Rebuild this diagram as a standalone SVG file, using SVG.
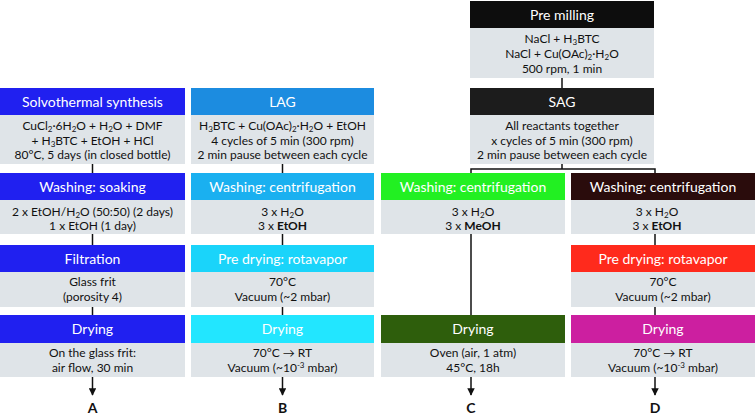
<svg xmlns="http://www.w3.org/2000/svg" width="756" height="416" viewBox="0 0 756 416">
<defs>
<style>
.hd{font-family:Lato,"Liberation Sans",sans-serif;font-size:14px;fill:#fff;text-anchor:middle}
.bd{font-family:Lato,"Liberation Sans",sans-serif;font-size:12px;fill:#111;text-anchor:middle}
.lt{font-family:Lato,"Liberation Sans",sans-serif;font-size:14px;font-weight:bold;fill:#111;text-anchor:middle}
.body{fill:#dfe4e8}
.ln{stroke:#111;stroke-width:1.5;fill:none}
.b{font-weight:bold}
.sub{font-size:8px;baseline-shift:-2px}
.sup{font-size:8px;baseline-shift:4px}
</style>
<marker id="ah" viewBox="0 0 10 10" refX="9" refY="5" markerWidth="5" markerHeight="5" orient="auto">
<path d="M0,0 L10,5 L0,10 z" fill="#111"/>
</marker>
</defs>
<rect width="756" height="416" fill="#fff"/>

<g id="connectors">
<line class="ln" x1="92.5" y1="164" x2="92.5" y2="173"/>
<line class="ln" x1="92.5" y1="234" x2="92.5" y2="245"/>
<line class="ln" x1="92.5" y1="307" x2="92.5" y2="315"/>
<line class="ln" x1="92.5" y1="377" x2="92.5" y2="395" marker-end="url(#ah)"/>
<line class="ln" x1="282.5" y1="164" x2="282.5" y2="173"/>
<line class="ln" x1="282.5" y1="234" x2="282.5" y2="245"/>
<line class="ln" x1="282.5" y1="307" x2="282.5" y2="315"/>
<line class="ln" x1="282.5" y1="377" x2="282.5" y2="395" marker-end="url(#ah)"/>
<line class="ln" x1="562" y1="78" x2="562" y2="88"/>
<polyline class="ln" points="562,164 562,169"/>
<polyline class="ln" points="471,173 471,169 655,169 655,173"/>
<line class="ln" x1="471" y1="234" x2="471" y2="315"/>
<line class="ln" x1="471" y1="377" x2="471" y2="395" marker-end="url(#ah)"/>
<line class="ln" x1="655" y1="234" x2="655" y2="245"/>
<line class="ln" x1="655" y1="307" x2="655" y2="315"/>
<line class="ln" x1="655" y1="377" x2="655" y2="395" marker-end="url(#ah)"/>
</g>

<!-- Column A -->
<g id="solvothermal">
<rect x="0" y="88" width="185" height="27" fill="#2020f0"/>
<text class="hd" x="92.5" y="106.5">Solvothermal synthesis</text>
<rect class="body" x="0" y="115" width="185" height="49"/>
<text class="bd" x="92.5" y="130">CuCl<tspan class="sub">2</tspan>·6H<tspan class="sub">2</tspan>O + H<tspan class="sub">2</tspan>O + DMF</text>
<text class="bd" x="92.5" y="144.5">+ H<tspan class="sub">3</tspan>BTC + EtOH + HCl</text>
<text class="bd" x="92.5" y="159">80°C, 5 days (in closed bottle)</text>
</g>
<g id="washA">
<rect x="0" y="173" width="185" height="27" fill="#2020f0"/>
<text class="hd" x="92.5" y="191.5">Washing: soaking</text>
<rect class="body" x="0" y="200" width="185" height="34"/>
<text class="bd" x="92.5" y="215.5">2 x EtOH/H<tspan class="sub">2</tspan>O (50:50) (2 days)</text>
<text class="bd" x="92.5" y="230">1 x EtOH (1 day)</text>
</g>
<g id="filtrationA">
<rect x="0" y="245" width="185" height="27" fill="#2020f0"/>
<text class="hd" x="92.5" y="263.5">Filtration</text>
<rect class="body" x="0" y="272" width="185" height="35"/>
<text class="bd" x="92.5" y="286">Glass frit</text>
<text class="bd" x="92.5" y="301">(porosity 4)</text>
</g>
<g id="dryingA">
<rect x="0" y="315" width="185" height="28" fill="#2020f0"/>
<text class="hd" x="92.5" y="334">Drying</text>
<rect class="body" x="0" y="343" width="185" height="34"/>
<text class="bd" x="92.5" y="357">On the glass frit:</text>
<text class="bd" x="92.5" y="372">air flow, 30 min</text>
</g>
<g id="labelA"><text class="lt" x="92.5" y="413">A</text></g>

<!-- Column B -->
<g id="lag">
<rect x="191" y="88" width="183" height="27" fill="#1c8ce0"/>
<text class="hd" x="282.5" y="106.5">LAG</text>
<rect class="body" x="191" y="115" width="183" height="49"/>
<text class="bd" x="282.5" y="130">H<tspan class="sub">3</tspan>BTC + Cu(OAc)<tspan class="sub">2</tspan>·H<tspan class="sub">2</tspan>O  + EtOH</text>
<text class="bd" x="282.5" y="144.5">4 cycles of 5 min (300 rpm)</text>
<text class="bd" x="282.5" y="159">2 min pause between each cycle</text>
</g>
<g id="washB">
<rect x="191" y="173" width="183" height="27" fill="#1ab0f0"/>
<text class="hd" x="282.5" y="191.5">Washing: centrifugation</text>
<rect class="body" x="191" y="200" width="183" height="34"/>
<text class="bd" x="282.5" y="215.5">3 x H<tspan class="sub">2</tspan>O</text>
<text class="bd" x="282.5" y="230">3 x <tspan class="b">EtOH</tspan></text>
</g>
<g id="predryB">
<rect x="191" y="245" width="183" height="27" fill="#1ad4fa"/>
<text class="hd" x="282.5" y="263.5">Pre drying: rotavapor</text>
<rect class="body" x="191" y="272" width="183" height="35"/>
<text class="bd" x="282.5" y="286">70°C</text>
<text class="bd" x="282.5" y="301">Vacuum (~2 mbar)</text>
</g>
<g id="dryingB">
<rect x="191" y="315" width="183" height="28" fill="#22e6ff"/>
<text class="hd" x="282.5" y="334">Drying</text>
<rect class="body" x="191" y="343" width="183" height="34"/>
<text class="bd" x="282.5" y="357">70°C → RT</text>
<text class="bd" x="282.5" y="372">Vacuum (~10<tspan class="sup">-3</tspan> mbar)</text>
</g>
<g id="labelB"><text class="lt" x="282.5" y="413">B</text></g>

<!-- Pre milling / SAG -->
<g id="premilling">
<rect x="470" y="1" width="184" height="27" fill="#0d0d0d"/>
<text class="hd" x="562" y="19.5">Pre milling</text>
<rect class="body" x="470" y="28" width="184" height="50"/>
<text class="bd" x="562" y="43">NaCl + H<tspan class="sub">3</tspan>BTC</text>
<text class="bd" x="562" y="58">NaCl + Cu(OAc)<tspan class="sub">2</tspan>·H<tspan class="sub">2</tspan>O</text>
<text class="bd" x="562" y="72.5">500 rpm, 1 min</text>
</g>
<g id="sag">
<rect x="470" y="88" width="184" height="27" fill="#1c1c1c"/>
<text class="hd" x="562" y="106.5">SAG</text>
<rect class="body" x="470" y="115" width="184" height="49"/>
<text class="bd" x="562" y="130">All reactants together</text>
<text class="bd" x="562" y="144.5">x cycles of 5 min (300 rpm)</text>
<text class="bd" x="562" y="159">2 min pause between each cycle</text>
</g>

<!-- Column C -->
<g id="washC">
<rect x="381" y="173" width="184" height="27" fill="#22f022"/>
<text class="hd" x="473" y="191.5">Washing: centrifugation</text>
<rect class="body" x="381" y="200" width="184" height="34"/>
<text class="bd" x="473" y="215.5">3 x H<tspan class="sub">2</tspan>O</text>
<text class="bd" x="473" y="230">3 x <tspan class="b">MeOH</tspan></text>
</g>
<g id="dryingC">
<rect x="381" y="315" width="184" height="28" fill="#2e5e0c"/>
<text class="hd" x="473" y="334">Drying</text>
<rect class="body" x="381" y="343" width="184" height="34"/>
<text class="bd" x="473" y="357">Oven (air, 1 atm)</text>
<text class="bd" x="473" y="372">45°C, 18h</text>
</g>
<g id="labelC"><text class="lt" x="471" y="413">C</text></g>

<!-- Column D -->
<g id="washD">
<rect x="571" y="173" width="184" height="27" fill="#2a0c0c"/>
<text class="hd" x="663" y="191.5">Washing: centrifugation</text>
<rect class="body" x="571" y="200" width="184" height="34"/>
<text class="bd" x="657" y="215.5">3 x H<tspan class="sub">2</tspan>O</text>
<text class="bd" x="657" y="230">3 x <tspan class="b">EtOH</tspan></text>
</g>
<g id="predryD">
<rect x="571" y="245" width="184" height="27" fill="#ff2a1c"/>
<text class="hd" x="663" y="263.5">Pre drying: rotavapor</text>
<rect class="body" x="571" y="272" width="184" height="35"/>
<text class="bd" x="663" y="286">70°C</text>
<text class="bd" x="663" y="301">Vacuum (~2 mbar)</text>
</g>
<g id="dryingD">
<rect x="571" y="315" width="184" height="28" fill="#cc1fa0"/>
<text class="hd" x="663" y="334">Drying</text>
<rect class="body" x="571" y="343" width="184" height="34"/>
<text class="bd" x="663" y="357">70°C → RT</text>
<text class="bd" x="663" y="372">Vacuum (~10<tspan class="sup">-3</tspan> mbar)</text>
</g>
<g id="labelD"><text class="lt" x="655" y="413">D</text></g>
</svg>
